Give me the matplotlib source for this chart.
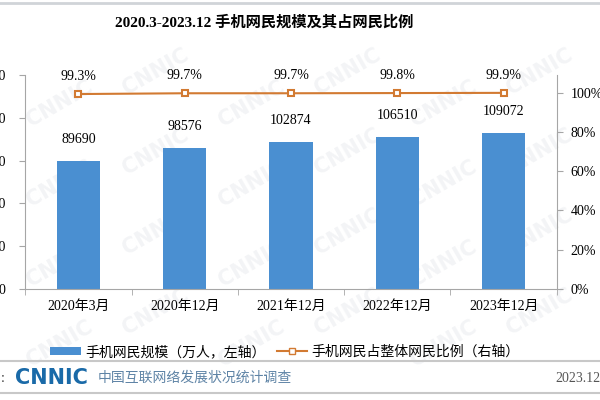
import matplotlib
matplotlib.use("Agg")
import matplotlib.pyplot as plt
from matplotlib.patches import Patch
from matplotlib.lines import Line2D

plt.rcParams["font.family"] = ["Liberation Serif", "Noto Sans CJK SC", "DejaVu Sans"]

categories = ["2020年3月", "2020年12月", "2021年12月", "2022年12月", "2023年12月"]
users = [89690, 98576, 102874, 106510, 109072]
share = [99.3, 99.7, 99.7, 99.8, 99.9]
left_ticks = [0, 30000, 60000, 90000, 120000, 150000]
right_ticks = [0, 20, 40, 60, 80, 100]

bar_color = "#4a8fd1"
line_color = "#d27a32"
grey = "#a6a6a6"

fig = plt.figure(figsize=(6, 4), dpi=100)
fig.patch.set_facecolor("white")

# faint watermark on a background axes
bg = fig.add_axes([0, 0, 1, 1], zorder=-5)
bg.axis("off")
for i in range(6):
    for j in range(4):
        bg.text(0.1 + i * 0.16, 0.14 + j * 0.2 + (i % 2) * 0.08, "CNNIC", rotation=30,
                fontsize=15, color="#f3f4f6", fontweight="bold",
                family="DejaVu Sans", ha="center", va="center")

ax = fig.add_axes([0.042, 0.2775, 0.886, 0.535], zorder=1)
ax.patch.set_alpha(0)
x = list(range(len(categories)))
bars = ax.bar(x, users, width=0.41, color=bar_color, zorder=2)
ax.set_ylim(0, 150000)
ax.set_yticks(left_ticks)
ax.set_yticklabels([str(v) for v in left_ticks], fontsize=10)
ax.set_xlim(-0.5, 4.5)
ax.set_xticks(x)
ax.set_xticklabels(categories, fontsize=10)
ax.set_xticks([i + 0.5 for i in range(-1, 5)], minor=True)
ax.tick_params(axis="x", which="major", length=3, color=grey, pad=8, direction="in")
ax.tick_params(axis="x", which="minor", length=4, color=grey, direction="out")
ax.tick_params(axis="y", length=4, color=grey, pad=10)
for s in ["top", "right"]:
    ax.spines[s].set_visible(False)
for s in ["left", "bottom"]:
    ax.spines[s].set_color(grey)
for b, v in zip(bars, users):
    ax.annotate(str(v), (b.get_x() + b.get_width() / 2, v), xytext=(0, 11),
                textcoords="offset points", ha="center", va="bottom", fontsize=10)

ax2 = ax.twinx()
ax2.plot(x, share, color=line_color, lw=1.5, marker="s", markersize=5,
         markerfacecolor="white", markeredgecolor=line_color, markeredgewidth=1.5, zorder=3)
ax2.set_ylim(0, 109)
ax2.set_yticks(right_ticks)
ax2.set_yticklabels([f"{v}%" for v in right_ticks], fontsize=10)
ax2.tick_params(axis="y", length=4, color=grey, pad=6)
for s in ["top", "left", "bottom"]:
    ax2.spines[s].set_visible(False)
ax2.spines["right"].set_color(grey)
for xi, v in zip(x, share):
    ax2.annotate(f"{v}%", (xi, v), xytext=(0, 8), textcoords="offset points",
                 ha="center", va="bottom", fontsize=10)

fig.text(0.44, 0.945, "2020.3-2023.12 手机网民规模及其占网民比例", ha="center", va="center",
         fontsize=11, fontweight="bold")

handles = [Patch(facecolor=bar_color),
           Line2D([], [], color=line_color, lw=1.5, marker="s", markersize=5,
                  markerfacecolor="white", markeredgecolor=line_color)]
fig.legend(handles, ["手机网民规模（万人，左轴）", "手机网民占整体网民比例（右轴）"],
           loc="center", bbox_to_anchor=(0.475, 0.12), ncol=2, frameon=False,
           fontsize=10, handlelength=2.2, handleheight=0.5, columnspacing=0.8, handletextpad=0.3)

# footer
fig.add_artist(Line2D([0, 1], [1 - 361 / 400] * 2, color="#c8c8c8", lw=1.5))
fig.add_artist(Line2D([0, 1], [1 - 393 / 400] * 2, color="#c8c8c8", lw=1.5))
fig.add_artist(Line2D([0, 1], [1 - 3 / 400] * 2, color="#d0d4d8", lw=2))
fig.text(0.002, 1 - 378 / 400, ":", fontsize=10, va="center", color="#333333")
fig.text(0.025, 1 - 378 / 400, "CNNIC", fontsize=15, fontweight="bold", color="#1a6aa8",
         family="DejaVu Sans", va="center")
fig.text(0.162, 1 - 378 / 400, "中国互联网络发展状况统计调查", fontsize=10, color="#5f84a6", va="center")
fig.text(0.925, 1 - 378 / 400, "2023.12", fontsize=10, color="#555555", va="center")

fig.savefig("out.png", dpi=100)
